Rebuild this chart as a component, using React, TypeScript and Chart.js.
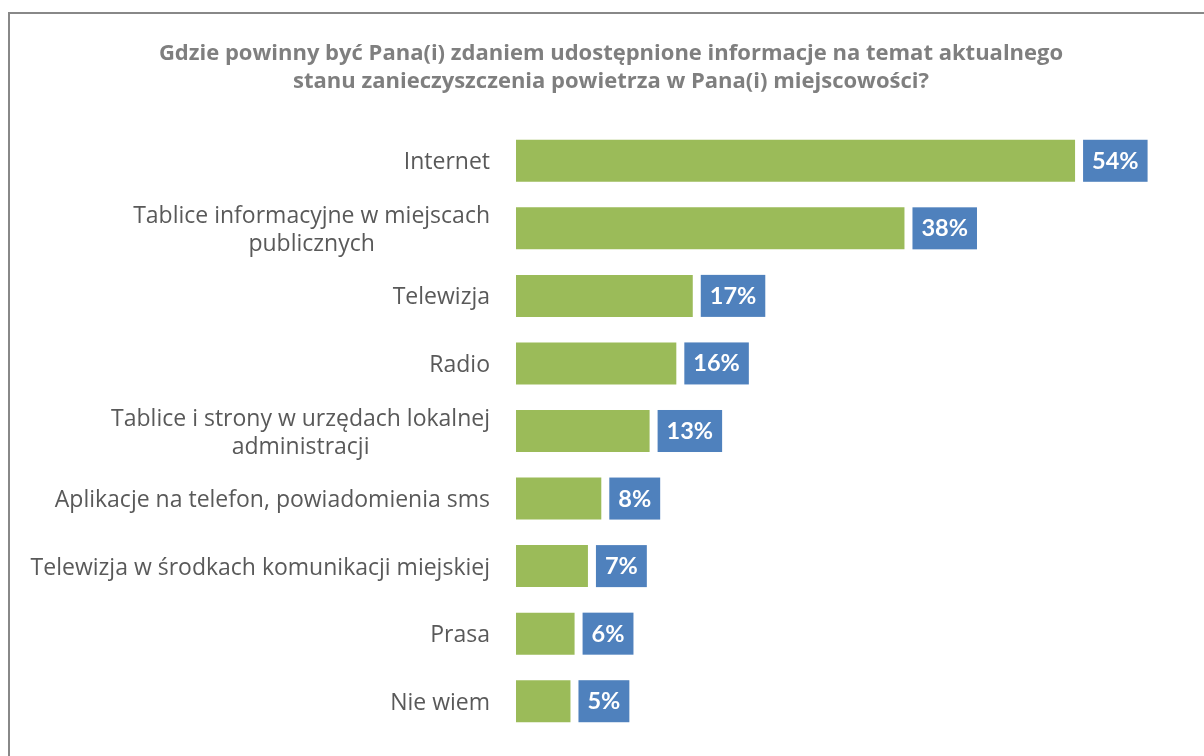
import React, { useEffect, useRef } from "react";
import { Chart, registerables } from "chart.js";

Chart.register(...registerables);

const TITLE_LINES = [
  "Gdzie powinny być Pana(i) zdaniem udostępnione informacje na temat aktualnego",
  "stanu zanieczyszczenia powietrza w Pana(i) miejscowości?",
];

const CATEGORIES: string[][] = [
  ["Internet"],
  ["Tablice informacyjne w miejscach", "publicznych"],
  ["Telewizja"],
  ["Radio"],
  ["Tablice i strony w urzędach lokalnej", "administracji"],
  ["Aplikacje na telefon, powiadomienia sms"],
  ["Telewizja w środkach komunikacji miejskiej"],
  ["Prasa"],
  ["Nie wiem"],
];

const VALUES = [54.4, 37.8, 17.2, 15.6, 13.0, 8.3, 7.0, 5.7, 5.3];
const VALUE_LABELS = ["54%", "38%", "17%", "16%", "13%", "8%", "7%", "6%", "5%"];

const TEXT_FONT = "'Open Sans', 'Noto Sans', sans-serif";
const VALUE_FONT = "Lato, 'Open Sans', sans-serif";
const BAR_COLOR = "#9BBB59";
const BOX_COLOR = "#4F81BD";
const LABEL_COLOR = "#595959";
const TITLE_COLOR = "#7F7F7F";

const overlayPlugin = {
  id: "overlay",
  afterDraw(chart: any) {
    const ctx = chart.ctx;
    const yScale = chart.scales.y;
    ctx.save();
    // Title
    ctx.fillStyle = TITLE_COLOR;
    ctx.font = `bold 22px ${TEXT_FONT}`;
    ctx.textAlign = "center";
    ctx.textBaseline = "alphabetic";
    ctx.fillText(TITLE_LINES[0], 611, 59.5);
    ctx.fillText(TITLE_LINES[1], 611, 88);

    // Category labels
    ctx.fillStyle = LABEL_COLOR;
    ctx.font = `23px ${TEXT_FONT}`;
    const rightEdge = 490;
    CATEGORIES.forEach((lines, i) => {
      const c = yScale.getPixelForValue(i);
      if (lines.length === 1) {
        ctx.textAlign = "right";
        ctx.fillText(lines[0], rightEdge, c + 8.5);
      } else {
        const w = Math.max(...lines.map((l) => ctx.measureText(l).width));
        const cx = rightEdge - w / 2;
        ctx.textAlign = "center";
        ctx.fillText(lines[0], cx, c - 5);
        ctx.fillText(lines[1], cx, c + 22.5);
      }
    });

    // Value boxes
    const meta = chart.getDatasetMeta(0);
    ctx.font = `bold 23.5px ${VALUE_FONT}`;
    meta.data.forEach((bar: any, i: number) => {
      const label = VALUE_LABELS[i];
      const tw = ctx.measureText(label).width;
      const h = bar.height;
      const left = bar.x + 8;
      const w = tw + 18;
      ctx.fillStyle = BOX_COLOR;
      ctx.fillRect(left, bar.y - h / 2, w, h);
      ctx.fillStyle = "#FFFFFF";
      ctx.textAlign = "center";
      ctx.fillText(label, left + w / 2, bar.y + 8);
    });
    ctx.restore();
  },
};

export default function App() {
  const ref = useRef<HTMLCanvasElement>(null);
  useEffect(() => {
    if (!ref.current) return;
    const chart = new Chart(ref.current, {
      type: "bar",
      data: {
        labels: CATEGORIES,
        datasets: [
          {
            data: VALUES,
            backgroundColor: BAR_COLOR,
            borderWidth: 0,
            barPercentage: 0.622,
            categoryPercentage: 1,
          },
        ],
      },
      options: {
        indexAxis: "y",
        responsive: false,
        animation: false,
        layout: { padding: { left: 0, right: 20, top: 127, bottom: 21 } },
        plugins: {
          legend: { display: false },
          title: { display: false },
          tooltip: { enabled: false },
        },
        scales: {
          x: { display: false, min: 0, max: 65 },
          y: {
            grid: { display: false },
            border: { display: false },
            ticks: { display: false },
            afterFit: (scale: any) => {
              scale.width = 516;
            },
          },
        },
      },
      plugins: [overlayPlugin],
    });
    return () => chart.destroy();
  }, []);

  return (
    <div
      style={{
        position: "absolute",
        left: 0,
        top: 0,
        width: 1204,
        height: 756,
        overflow: "hidden",
        background: "#FFFFFF",
      }}
    >
      <div
        style={{
          position: "absolute",
          left: 8,
          top: 12,
          width: 1300,
          height: 900,
          border: "2px solid #888888",
          boxSizing: "border-box",
        }}
      />
      <canvas
        ref={ref}
        width={1204}
        height={756}
        style={{ position: "absolute", left: 0, top: 0, width: 1204, height: 756 }}
      />
    </div>
  );
}
